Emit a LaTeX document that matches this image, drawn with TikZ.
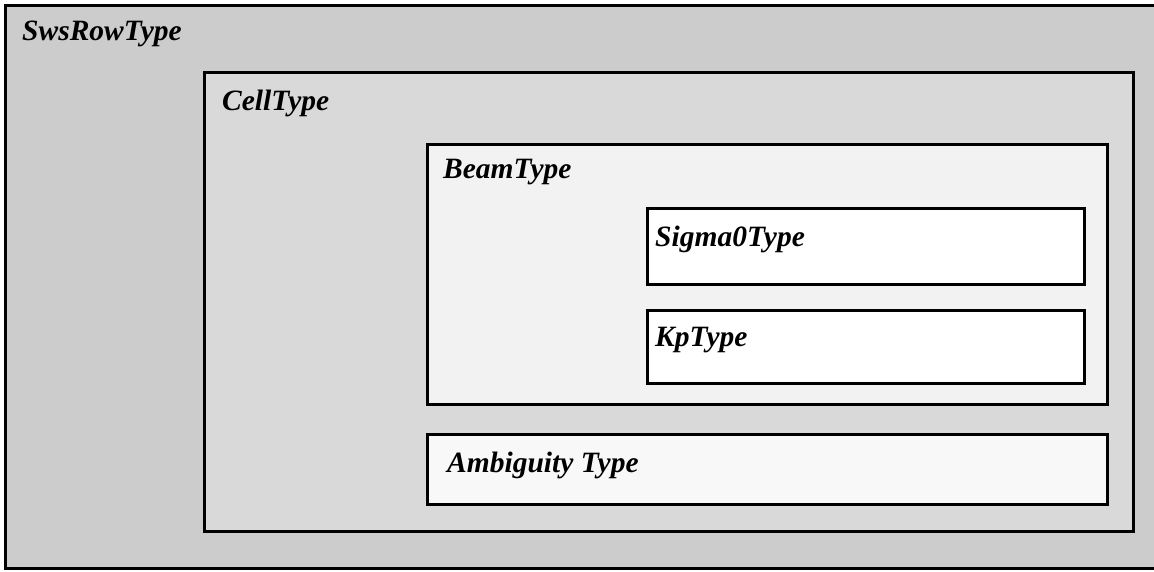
\documentclass[tikz,border=0pt]{standalone}
\usepackage{fontspec}
\setmainfont{Liberation Serif}
\definecolor{fillA}{HTML}{CCCCCC}
\definecolor{fillB}{HTML}{D9D9D9}
\definecolor{fillC}{HTML}{F2F2F2}
\definecolor{fillD}{HTML}{FFFFFF}
\definecolor{fillE}{HTML}{F8F8F8}
\tikzset{
  typebox/.style={draw=black, line width=3pt},
  typelabel/.style={anchor=base west, inner sep=0pt, font=\fontsize{29.5}{31}\selectfont\bfseries\itshape}
}
\begin{document}
\begin{tikzpicture}[x=1pt,y=-1pt]
\useasboundingbox (0,0) rectangle (1154,571);
\clip (0,0) rectangle (1154,571);
\filldraw[typebox, fill=fillA] (5,5) rectangle (1170,568);
\node[typelabel] (sws) at (22,40) {SwsRowType};
\filldraw[typebox, fill=fillB] (204,72) rectangle (1133,531);
\node[typelabel] (cell) at (222,110) {CellType};
\filldraw[typebox, fill=fillC] (427,144) rectangle (1107,404);
\node[typelabel] (beam) at (443,178) {BeamType};
\filldraw[typebox, fill=fillD] (647,208) rectangle (1084,284);
\node[typelabel] (sigma) at (655,246) {Sigma0Type};
\filldraw[typebox, fill=fillD] (647,310) rectangle (1084,383);
\node[typelabel] (kp) at (655,346) {KpType};
\filldraw[typebox, fill=fillE] (427,434) rectangle (1107,504);
\node[typelabel] (amb) at (447,472) {Ambiguity Type};
\end{tikzpicture}
\end{document}
